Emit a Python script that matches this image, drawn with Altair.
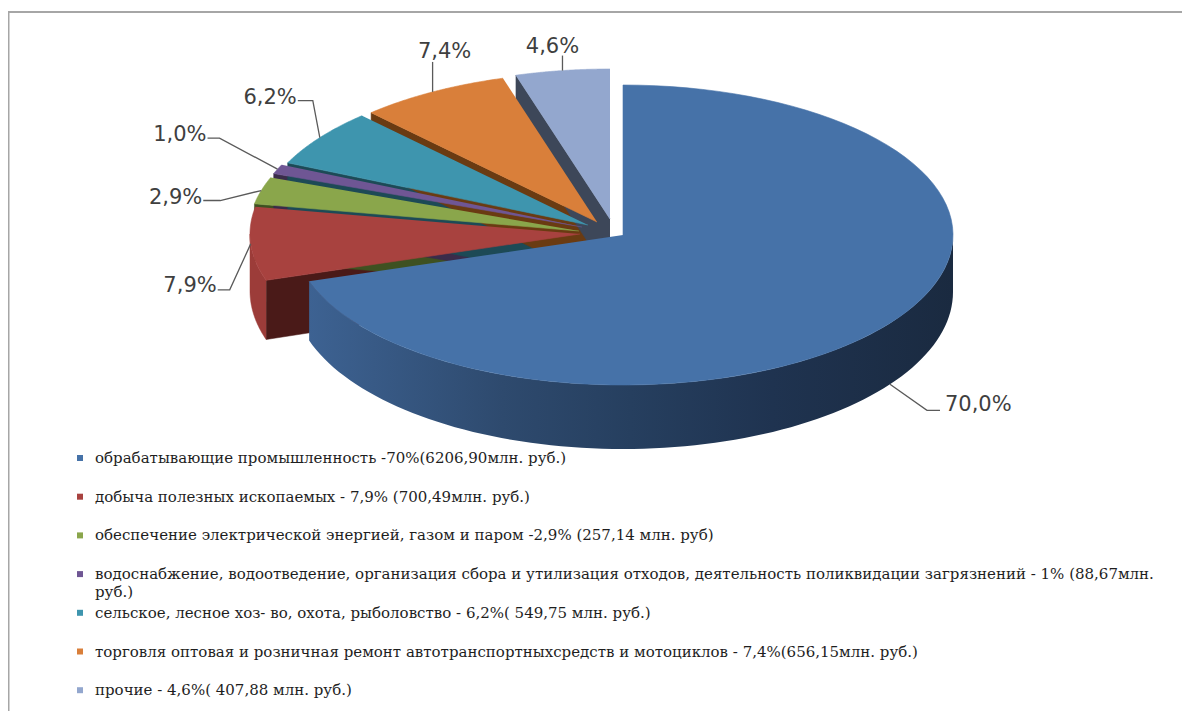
import altair as alt
import pandas as pd

# ---------------- data ----------------
categories = [
    "обрабатывающие промышленность",
    "добыча полезных ископаемых",
    "обеспечение электрической энергией, газом и паром",
    "водоснабжение, водоотведение, организация сбора и утилизация отходов",
    "сельское, лесное хоз-во, охота, рыболовство",
    "торговля оптовая и розничная, ремонт автотранспортных средств",
    "прочие",
]
amounts = [6206.90, 700.49, 257.14, 88.67, 549.75, 656.15, 407.88]
pct_labels = ["70,0%", "7,9%", "2,9%", "1,0%", "6,2%", "7,4%", "4,6%"]
legend_labels = [
    "обрабатывающие промышленность -70%(6206,90млн. руб.)",
    "добыча полезных ископаемых -  7,9% (700,49млн. руб.)",
    "обеспечение  электрической энергией, газом и паром -2,9% (257,14 млн. руб)",
    "водоснабжение, водоотведение, организация сбора и утилизация отходов, деятельность поликвидации  загрязнений - 1% (88,67млн.\nруб.)",
    "сельское, лесное  хоз- во, охота, рыболовство - 6,2%( 549,75 млн. руб.)",
    "торговля оптовая и розничная ремонт автотранспортныхсредств и мотоциклов - 7,4%(656,15млн. руб.)",
    "прочие - 4,6%( 407,88 млн. руб.)",
]

# ---------------- styles / layout ----------------
top_colors = ["#4672A8", "#A8423F", "#8AA64B", "#6F5694", "#3E95AE", "#D97F3A", "#93A7CE"]
wall_colors = ["#2B4870", "#9C3C39", "#7A9441", "#5E4880", "#357F94", "#B86A2F", "#7C8FB0"]
face_colors = ["#1F3350", "#4A1A18", "#3E5121", "#3A2C4A", "#1D4A56", "#6A3B12", "#3D4759"]

CX, CY, RX, RY = 603, 237, 330, 150
D0, D1 = 57, 7
N = 90
explode_dx = [20, -23, -24, -21, -15, -6, 7]
explode_dy = [-2, -3, -6, -10, -12, -15, -18]
# leader lines: elbow offset from anchor, horizontal run, text offset
lbl_edx = [37, -21, -41, -58, -7, 0, 0]
lbl_edy = [26, 46, 10, -31, -37, -30, -15]
lbl_ldx = [13, -12, -17, -12, -15, 0, 0]
lbl_tdx = [5, -1, -1, -1, -1, 12, -10]
lbl_tdy = [1, 2, 3, 3, 3, -4, -3]
lbl_align = ["left", "right", "right", "right", "right", "center", "center"]
LEG_MX, LEG_TX, LEG_Y0, LEG_STEP = 80, 95, 458, 38.7

W, H = 1174, 703

df = pd.DataFrame({
    "cat": categories, "amount": amounts, "order": list(range(1, 8)),
    "pct": pct_labels, "legend": legend_labels,
    "top": top_colors, "wall": wall_colors, "face": face_colors,
    "ex": explode_dx, "ey": explode_dy,
    "edx": lbl_edx, "edy": lbl_edy, "ldx": lbl_ldx, "tdx": lbl_tdx, "tdy": lbl_tdy,
    "align": lbl_align,
})

X = alt.X("px:Q", scale=alt.Scale(domain=[8, 8 + W], nice=False, zero=False), axis=None)
Y = alt.Y("py:Q", scale=alt.Scale(domain=[8, 8 + H], nice=False, zero=False, reverse=True), axis=None)


def base():
    return (
        alt.Chart(df)
        .transform_joinaggregate(total="sum(amount)")
        .transform_window(cum="sum(amount)", sort=[alt.SortField("order", order="ascending")], frame=[None, 0])
        .transform_calculate(
            a0="(1.5 + 2 * (datum.cum - datum.amount) / datum.total) * PI",
            a1="(1.5 + 2 * datum.cum / datum.total) * PI",
            cx=f"{CX} + datum.ex",
            cy=f"{CY} + datum.ey",
        )
    )


# radial cut faces (start edges facing the viewer)
faces = (
    base()
    .transform_filter("cos(datum.a0) < -0.01")
    .transform_calculate(k="sequence(0, 4)")
    .transform_flatten(["k"])
    .transform_calculate(dep=f"{D0} + {D1} * max(0, sin(datum.a0))")
    .transform_calculate(
        px=f"(datum.k == 1 || datum.k == 2) ? datum.cx + {RX} * cos(datum.a0) : datum.cx",
        py=f"((datum.k == 1 || datum.k == 2) ? datum.cy + {RY} * sin(datum.a0) : datum.cy)"
           f" + (datum.k == 2 ? datum.dep : (datum.k == 3 ? {D0} : 0))",
    )
    .mark_line(strokeWidth=0.5)
    .encode(x=X, y=Y, order="k:Q", detail="cat:N",
            fill=alt.Fill("face:N", scale=None), stroke=alt.Stroke("face:N", scale=None))
)

# outer walls (front half only)
walls_base = (
    base()
    .transform_calculate(v0="max(datum.a0, 2 * PI)", v1="min(datum.a1, 3 * PI)")
    .transform_filter("datum.v1 > datum.v0 + 0.001")
    .transform_calculate(k=f"sequence(0, {2 * N + 2})")
    .transform_flatten(["k"])
    .transform_calculate(
        th=f"datum.k <= {N} ? datum.v0 + (datum.v1 - datum.v0) * datum.k / {N}"
           f" : datum.v1 - (datum.v1 - datum.v0) * (datum.k - {N + 1}) / {N}"
    )
    .transform_calculate(
        px=f"datum.cx + {RX} * cos(datum.th)",
        py=f"datum.cy + {RY} * sin(datum.th) + (datum.k <= {N} ? 0 : {D0} + {D1} * max(0, sin(datum.th)))",
    )
)
blue_grad = alt.Gradient(
    gradient="linear", x1=0, x2=1, y1=0, y2=0,
    stops=[
        alt.GradientStop(color="#3D6292", offset=0),
        alt.GradientStop(color="#2E4A6E", offset=0.3),
        alt.GradientStop(color="#263F5F", offset=0.5),
        alt.GradientStop(color="#1F3350", offset=0.72),
        alt.GradientStop(color="#1A2A40", offset=1),
    ],
)
wall_main = (
    walls_base.transform_filter("datum.order == 1")
    .mark_line(fill=blue_grad, strokeWidth=0)
    .encode(x=X, y=Y, order="k:Q", detail="cat:N")
)
wall_rest = (
    walls_base.transform_filter("datum.order != 1")
    .mark_line(strokeWidth=0.5)
    .encode(x=X, y=Y, order="k:Q", detail="cat:N",
            fill=alt.Fill("wall:N", scale=None), stroke=alt.Stroke("wall:N", scale=None))
)

# top faces
tops = (
    base()
    .transform_calculate(k=f"sequence(0, {N + 2})")
    .transform_flatten(["k"])
    .transform_calculate(th=f"datum.a0 + (datum.a1 - datum.a0) * (datum.k - 1) / {N}")
    .transform_calculate(
        px=f"datum.k == 0 ? datum.cx : datum.cx + {RX} * cos(datum.th)",
        py=f"datum.k == 0 ? datum.cy : datum.cy + {RY} * sin(datum.th)",
    )
    .mark_line(strokeWidth=0.6, strokeJoin="round")
    .encode(x=X, y=Y, order="k:Q", detail="cat:N",
            fill=alt.Fill("top:N", scale=None), stroke=alt.Stroke("top:N", scale=None))
)

# leader lines and labels
lbl_base = (
    base()
    .transform_calculate(mid="(datum.a0 + datum.a1) / 2")
    .transform_calculate(
        ax=f"datum.cx + {RX} * cos(datum.mid)",
        ay=f"datum.cy + {RY} * sin(datum.mid) + (sin(datum.mid) > 0.3 ? {D0} + {D1} * sin(datum.mid) : 0)",
    )
    .transform_calculate(bx="datum.ax + datum.edx", by="datum.ay + datum.edy")
)
leaders = (
    lbl_base.transform_calculate(k="sequence(0, 3)")
    .transform_flatten(["k"])
    .transform_calculate(
        px="datum.k == 0 ? datum.ax : (datum.k == 1 ? datum.bx : datum.bx + datum.ldx)",
        py="datum.k == 0 ? datum.ay : datum.by",
    )
    .mark_line(color="#5A5A5A", strokeWidth=1.3)
    .encode(x=X, y=Y, order="k:Q", detail="cat:N")
)
lbl_pos = lbl_base.transform_calculate(px="datum.bx + datum.ldx + datum.tdx", py="datum.by + datum.tdy")
label_layers = [
    lbl_pos.transform_filter(f"datum.align == '{a}'")
    .mark_text(align=a, baseline="alphabetic", font="DejaVu Sans", fontSize=21, color="#3F3F3F")
    .encode(x=X, y=Y, text="pct:N")
    for a in ["left", "right", "center"]
]

# legend (drawn as marks)
leg_base = alt.Chart(df).transform_calculate(ly=f"{LEG_Y0} + {LEG_STEP} * (datum.order - 1)")
leg_marks = (
    leg_base.transform_calculate(px=f"{LEG_MX}", py="datum.ly")
    .mark_square(size=36, opacity=1, filled=True)
    .encode(x=X, y=Y, color=alt.Color("top:N", scale=None))
)
leg_text = (
    leg_base.transform_calculate(px=f"{LEG_TX}", py="datum.ly + 5")
    .mark_text(align="left", baseline="alphabetic", font="DejaVu Serif", fontSize=15,
               color="#1E1E1E", lineBreak="\n", lineHeight=18)
    .encode(x=X, y=Y, text="legend:N")
)

# chart frame: only its top and left edges fall inside the picture
frame_df = pd.DataFrame({"f": [0]})
frame_top = (
    alt.Chart(frame_df).mark_rule(color="#A6A6A6", strokeWidth=2)
    .encode(x=alt.value(0), x2=alt.value(W), y=alt.value(4), y2=alt.value(4))
)
frame_left = (
    alt.Chart(frame_df).mark_rect(color="#A6A6A6", opacity=1)
    .encode(x=alt.value(0), x2=alt.value(1.5), y=alt.value(3), y2=alt.value(H))
)

chart = (
    alt.layer(frame_top, frame_left, faces, wall_rest, wall_main, tops, leaders, *label_layers, leg_marks, leg_text)
    .properties(width=W, height=H, padding=0, autosize=alt.AutoSizeParams(type="none"), background="white")
    .configure_view(stroke=None)
)

chart.save("out.html", embed_options={"renderer": "svg", "actions": False})
